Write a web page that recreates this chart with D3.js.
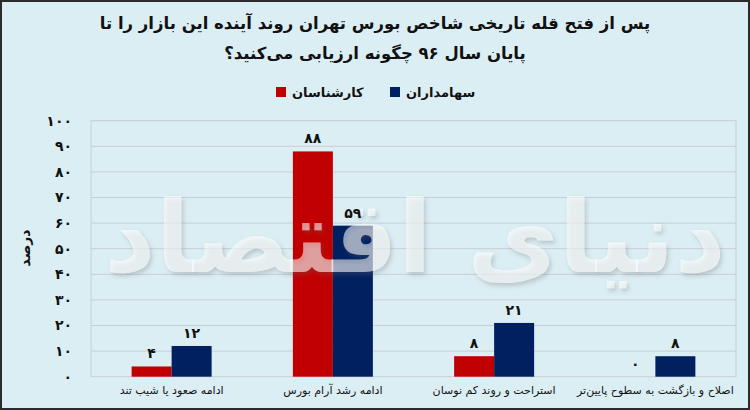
<!DOCTYPE html>
<html><head><meta charset="utf-8">
<script src="https://cdnjs.cloudflare.com/ajax/libs/d3/7.8.5/d3.min.js"></script>
<style>
html,body{margin:0;padding:0;background:#fff;}
svg{display:block;}
text{font-family:"DejaVu Sans",sans-serif;}
</style></head>
<body><svg id="c" width="750" height="410"></svg>
<script>
const titleLines = ["پس از فتح قله تاریخی شاخص بورس تهران روند آینده این بازار را تا", "پایان سال ۹۶ چگونه ارزیابی می‌کنید؟"];
const categories = ["ادامه صعود یا شیب تند", "ادامه رشد آرام بورس", "استراحت و روند کم نوسان", "اصلاح و بازگشت به سطوح پایین‌تر"];
const seriesNames = ["کارشناسان", "سهامداران"];
const experts = [4, 88, 8, 0];
const shareholders = [12, 59, 21, 8];
const yTicks = [0, 10, 20, 30, 40, 50, 60, 70, 80, 90, 100];
const yTitle = "درصد";
const watermark = "دنیای اقتصاد";
const colors = ["#c00000", "#002060"];

const fa = s => String(s).replace(/\d/g, d => "۰۱۲۳۴۵۶۷۸۹"[d]);
const svg = d3.select("#c");
const W = 750, H = 410;

svg.append("rect").attr("x", 1).attr("y", 1).attr("width", W - 2).attr("height", H - 2)
  .attr("fill", "#dbeef4").attr("stroke", "#2b2b2b").attr("stroke-width", 2);

const defs = svg.append("defs");
const f = defs.append("filter").attr("id", "sh").attr("x", "-10%").attr("y", "-10%").attr("width", "120%").attr("height", "120%");
f.append("feDropShadow").attr("dx", 2).attr("dy", 3).attr("stdDeviation", 2).attr("flood-color", "#666").attr("flood-opacity", 0.5);

const x = d3.scaleBand().domain(categories).range([91, 736]);
const x1 = d3.scaleBand().domain(seriesNames).range([x.bandwidth() / 2 - 40, x.bandwidth() / 2 + 40]);
const y = d3.scaleLinear().domain([0, 100]).range([376.7, 120.7]);

// plot frame + grid
const g = svg.append("g");
g.append("rect").attr("x", 91).attr("y", y(100)).attr("width", 736 - 91).attr("height", y(0) - y(100))
  .attr("fill", "none").attr("stroke", "#c8cfd3").attr("stroke-width", 1);
g.selectAll("line.grid").data(yTicks.slice(1, -1)).join("line")
  .attr("x1", 91).attr("x2", 736).attr("y1", d => y(d)).attr("y2", d => y(d))
  .attr("stroke", "#c8cfd3").attr("stroke-width", 1);

// y axis labels
const yAxis = d3.axisLeft(y).tickValues(yTicks).tickSize(0).tickPadding(0).tickFormat(d => fa(d));
const ya = svg.append("g").attr("transform", "translate(72,0)").call(yAxis);
ya.select(".domain").remove();
ya.selectAll("text").attr("font-size", 14).attr("font-weight", "bold").attr("fill", "#111")
  .attr("font-family", "DejaVu Sans");

svg.append("text").attr("transform", "translate(30,248) rotate(-90)").attr("text-anchor", "middle")
  .attr("font-size", 14).attr("font-weight", "bold").attr("fill", "#111").text(yTitle);

// bars
const series = [experts, shareholders];
const barsG = svg.append("g");
series.forEach((vals, si) => {
  barsG.append("g").selectAll("rect").data(vals).join("rect")
    .attr("x", (d, i) => x(categories[i]) + x1(seriesNames[si]))
    .attr("y", d => y(d)).attr("width", x1.bandwidth()).attr("height", d => y(0) - y(d))
    .attr("fill", colors[si]);
});

// watermark over the bars
svg.append("text").attr("x", 415).attr("y", 272).attr("text-anchor", "middle").attr("direction", "rtl")
  .attr("font-size", 100).attr("font-weight", "bold").attr("fill", "#ffffff").attr("fill-opacity", 0.55)
  .attr("filter", "url(#sh)").text(watermark);

// value labels
series.forEach((vals, si) => {
  svg.append("g").selectAll("text").data(vals).join("text")
    .attr("x", (d, i) => x(categories[i]) + x1(seriesNames[si]) + x1.bandwidth() / 2)
    .attr("y", d => y(d) - 8).attr("text-anchor", "middle")
    .attr("font-size", 14).attr("font-weight", "bold").attr("fill", "#111")
    .text(d => fa(d));
});

// x axis labels
const xAxis = d3.axisBottom(x).tickSize(0).tickPadding(0);
const xa = svg.append("g").attr("transform", "translate(0,386)").call(xAxis);
xa.select(".domain").remove();
xa.selectAll("text").attr("font-size", 11).attr("fill", "#111").attr("direction", "rtl")
  .attr("font-family", "DejaVu Sans");

// title
svg.selectAll("text.title").data(titleLines).join("text").attr("class", "title")
  .attr("x", 375).attr("y", (d, i) => 29 + i * 30).attr("text-anchor", "middle").attr("direction", "rtl")
  .attr("font-size", 16.5).attr("font-weight", "bold").attr("fill", "#111").text(d => d);

// legend
const legX = [276, 390];
const lg = svg.append("g");
seriesNames.forEach((n, i) => {
  lg.append("rect").attr("x", legX[i]).attr("y", 87).attr("width", 10).attr("height", 10).attr("fill", colors[i]);
  lg.append("text").attr("x", legX[i] + 16).attr("y", 97).attr("text-anchor", "start").attr("direction", "ltr")
    .attr("font-size", 13).attr("font-weight", "bold").attr("fill", "#111").text(n);
});
</script></body></html>
